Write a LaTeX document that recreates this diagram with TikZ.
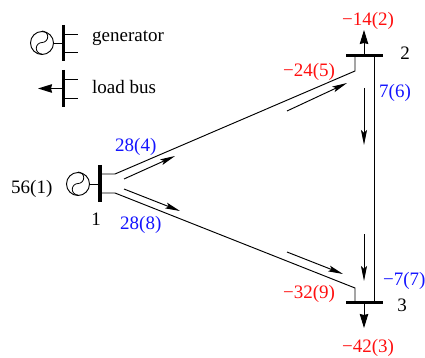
\documentclass[tikz,border=0pt]{standalone}
\usepackage{fontspec}
\setmainfont{Liberation Serif}
\usetikzlibrary{arrows.meta}
\definecolor{lblue}{RGB}{20,20,255}
\definecolor{lred}{RGB}{255,15,15}
\tikzset{
  x=1pt,y=-1pt,
  wire/.style={line width=0.95pt,black},
  busbar/.style={line width=3.6pt,black},
  flow/.style={line width=0.95pt,-{Stealth[length=15pt,width=6pt,inset=3pt]}},
  loadarrow/.style={line width=0.95pt,-{Stealth[length=14pt,width=8.5pt,inset=1pt]}},
  gen/.style={circle,draw,line width=0.95pt,minimum size=23pt,inner sep=0pt},
  lab/.style={font=\fontsize{19}{19}\selectfont,anchor=base west,inner sep=0pt},
  labc/.style={font=\fontsize{19}{19}\selectfont,anchor=base,inner sep=0pt},
  poslab/.style={lab,text=lblue},
  neglab/.style={lab,text=lred}
}
\newcommand{\gencurve}[1]{\draw[line width=0.8pt] (#1.north) arc[start angle=90,end angle=-90,radius=5.75pt] arc[start angle=90,end angle=270,radius=5.75pt];}
\begin{document}
\begin{tikzpicture}
\useasboundingbox (0,0) rectangle (425,358);
% legend generator
\coordinate (lgT) at (63.5,25); \coordinate (lgB) at (63.5,61);
\coordinate (lgM) at (63.5,43);
\coordinate (lgS1) at (63.5,34); \coordinate (lgE1) at (78,34);
\coordinate (lgS2) at (63.5,52); \coordinate (lgE2) at (78,52);
\node[gen] (lgen) at (42,43) {};
\gencurve{lgen}
\draw[wire] (lgen) -- (lgM);
\draw[wire] (lgS1) -- (lgE1);
\draw[wire] (lgS2) -- (lgE2);
\draw[busbar] (lgT) -- (lgB);
\node[lab] (tgen) at (92,42) {generator};
% legend load
\coordinate (llT) at (63.5,70); \coordinate (llB) at (63.5,107);
\coordinate (llM) at (63.5,88.5); \coordinate (llA) at (38,88.5);
\coordinate (llS1) at (63.5,79.5); \coordinate (llE1) at (78,79.5);
\coordinate (llS2) at (63.5,98); \coordinate (llE2) at (78,98);
\draw[loadarrow] (llM) -- (llA);
\draw[wire] (llS1) -- (llE1);
\draw[wire] (llS2) -- (llE2);
\draw[busbar] (llT) -- (llB);
\node[lab] (tload) at (92,94) {load bus};
% bus 1
\coordinate (b1T) at (100,165); \coordinate (b1B) at (100,202);
\coordinate (b1M) at (100,184);
\coordinate (b1a) at (100,174); \coordinate (b1c) at (115,174);
\coordinate (b1b) at (100,193); \coordinate (b1d) at (115,193);
\node[gen] (g1) at (78,184) {};
\gencurve{g1}
\draw[wire] (g1) -- (b1M);
% bus 2
\coordinate (b2L) at (346,55.5); \coordinate (b2R) at (383,55.5);
\coordinate (b2a) at (355,55.5); \coordinate (b2c) at (355,71);
\coordinate (b2v) at (374,55.5); \coordinate (b2m) at (364,55.5); \coordinate (b2t) at (364,30);
% bus 3
\coordinate (b3L) at (346,302.5); \coordinate (b3R) at (383,302.5);
\coordinate (b3a) at (355,302.5); \coordinate (b3c) at (355,288);
\coordinate (b3v) at (374,302.5); \coordinate (b3m) at (364,302.5); \coordinate (b3t) at (364,328);
% lines
\draw[wire,line join=miter] (b1a) -- (b1c) -- (b2c) -- (b2a);
\draw[wire,line join=miter] (b1b) -- (b1d) -- (b3c) -- (b3a);
\draw[wire] (b2v) -- (b3v);
\draw[loadarrow] (b2m) -- (b2t);
\draw[loadarrow] (b3m) -- (b3t);
\draw[busbar] (b1T) -- (b1B);
\draw[busbar] (b2L) -- (b2R);
\draw[busbar] (b3L) -- (b3R);
% flow arrows
\coordinate (f1s) at (124,179); \coordinate (f1e) at (175,156);
\coordinate (f2s) at (124,189); \coordinate (f2e) at (180,211);
\coordinate (f3s) at (287,111); \coordinate (f3e) at (347,83);
\coordinate (f4s) at (287,252); \coordinate (f4e) at (343,274);
\coordinate (f5s) at (364,88); \coordinate (f5e) at (364,145);
\coordinate (f6s) at (364,234); \coordinate (f6e) at (364,281);
\draw[flow] (f1s) -- (f1e);
\draw[flow] (f2s) -- (f2e);
\draw[flow] (f3s) -- (f3e);
\draw[flow] (f4s) -- (f4e);
\draw[flow] (f5s) -- (f5e);
\draw[flow] (f6s) -- (f6e);
% labels
\node[lab] (t56) at (11,193) {56(1)};
\node[labc] (n1) at (96,225) {1};
\node[labc] (n2) at (405,60) {2};
\node[labc] (n3) at (402,311) {3};
\node[poslab] (t284) at (115,152) {28(4)};
\node[poslab] (t288) at (120,229) {28(8)};
\node[poslab] (t76) at (379,98) {7(6)};
\node[poslab] (t77) at (383,285) {−7(7)};
\node[neglab] (t14) at (342,25.5) {−14(2)};
\node[neglab] (t24) at (283,77) {−24(5)};
\node[neglab] (t32) at (283,298) {−32(9)};
\node[neglab] (t42) at (342,352) {−42(3)};
\end{tikzpicture}
\end{document}
